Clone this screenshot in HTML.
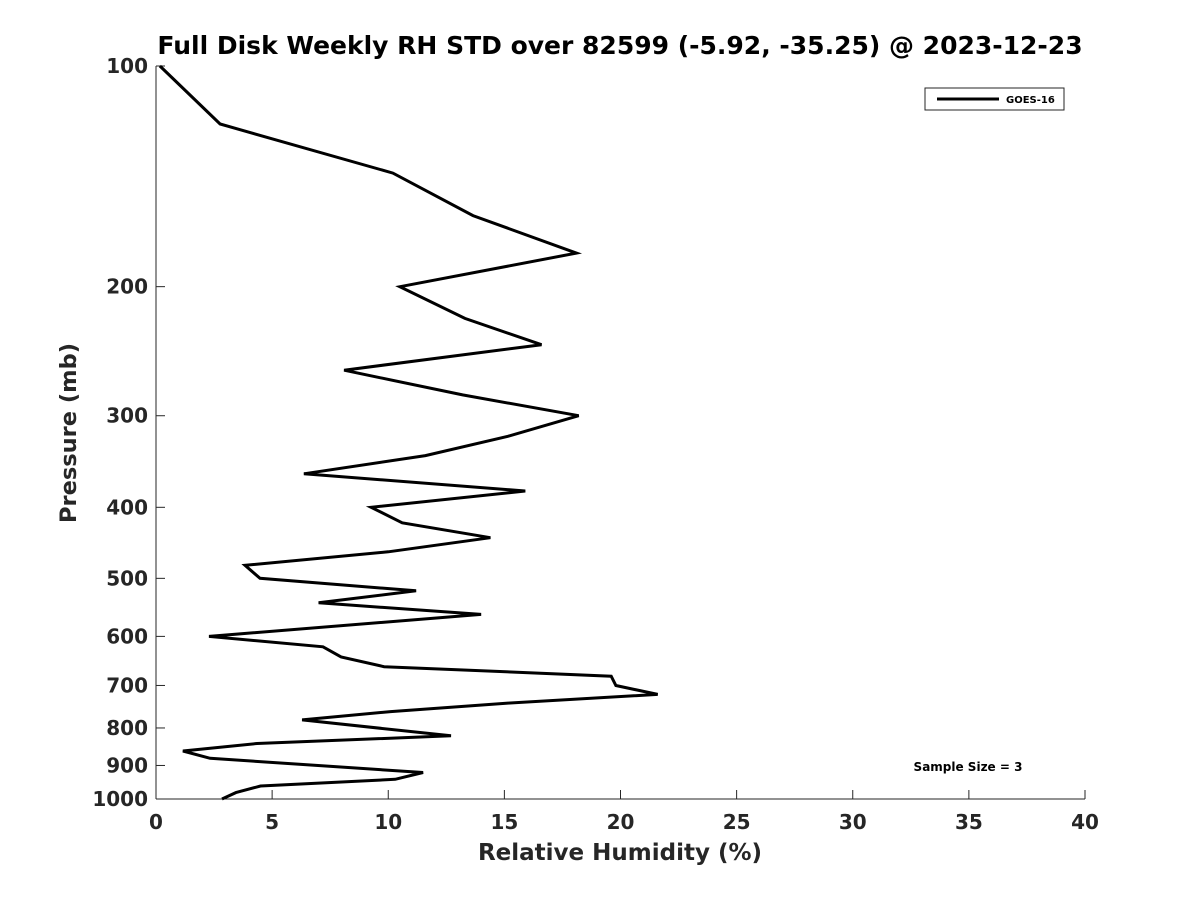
<!DOCTYPE html>
<html><head><meta charset="utf-8"><style>
body{margin:0;background:#fff;font-family:"Liberation Sans","DejaVu Sans",sans-serif}
</style></head><body>
<svg width="1200" height="900" xmlns="http://www.w3.org/2000/svg" id="chart" font-family="DejaVu Sans, Liberation Sans, sans-serif">
<rect width="1200" height="900" fill="#fff"/>
<text x="620" y="54" text-anchor="middle" font-size="25" font-weight="bold">Full Disk Weekly RH STD over 82599 (-5.92, -35.25) @ 2023-12-23</text>
<g id="axes"></g>
<text x="620" y="860" text-anchor="middle" font-size="23" font-weight="bold" fill="#262626">Relative Humidity (%)</text>
<text transform="translate(76,433) rotate(-90)" text-anchor="middle" font-size="22.5" font-weight="bold" fill="#262626">Pressure (mb)</text>
<g>
<rect x="925" y="88" width="139" height="22" fill="#fff" stroke="#262626" stroke-width="1"/>
<line x1="937" y1="99" x2="999" y2="99" stroke="#000" stroke-width="3"/>
<text x="1006" y="103" font-size="10" font-weight="bold">GOES-16</text>
</g>
<text x="968" y="771" text-anchor="middle" font-size="12" font-weight="bold">Sample Size = 3</text>
</svg>
<script>
const rhValues=[0.17,2.76,10.2,13.65,18.1,10.5,13.3,16.6,8.1,13.2,18.2,15.15,11.6,6.37,15.9,9.26,10.6,14.4,10.0,3.83,4.48,11.2,7.0,14.0,2.28,7.19,7.97,9.82,19.6,19.8,21.6,15.15,10.1,6.29,12.7,4.35,1.16,2.33,11.5,10.3,4.5,3.44,2.84];
const pressures=[100,120,140,160,180,200,221,240,260,281,300,320,340,360,380,400,420,440,460,480,500,520,540,560,600,620,640,660,680,700,720,740,760,780,820,840,860,880,920,940,960,980,1000];
const xTicks=[0,5,10,15,20,25,30,35,40];
const yTicks=[100,200,300,400,500,600,700,800,900,1000];
const NS="http://www.w3.org/2000/svg";
const L=156,R=1085,T=66,B=799;
const xs=v=>L+(v-0)/(40-0)*(R-L);
const ys=p=>T+(Math.log10(p)-2)*(B-T);
const g=document.getElementById('axes');
function mk(t,a){const e=document.createElementNS(NS,t);for(const k in a)e.setAttribute(k,a[k]);g.appendChild(e);return e;}
let ax=mk('line',{x1:L,y1:B,x2:R,y2:B,stroke:'#262626','stroke-width':1});


let ay=mk('line',{x1:L,y1:T,x2:L,y2:B,stroke:'#262626','stroke-width':1});


xTicks.forEach(v=>{
 mk('line',{x1:xs(v),y1:B,x2:xs(v),y2:B-9,stroke:'#262626'});
 const t=mk('text',{x:xs(v),y:B+30,'text-anchor':'middle','font-size':20,'font-weight':'bold',fill:'#262626'});
 t.textContent=v;
 
 
});
yTicks.forEach(p=>{
 mk('line',{x1:L,y1:ys(p),x2:L+9,y2:ys(p),stroke:'#262626'});
 const t=mk('text',{x:L-8,y:ys(p)+7,'text-anchor':'end','font-size':20,'font-weight':'bold',fill:'#262626'});
 t.textContent=p;
 
 
});
const pts=rhValues.map((v,i)=>xs(v).toFixed(1)+','+ys(pressures[i]).toFixed(1)).join(' ');
const line=mk('polyline',{points:pts,fill:'none',stroke:'#000','stroke-width':3,'stroke-linejoin':'miter'});


</script>
</body></html>
